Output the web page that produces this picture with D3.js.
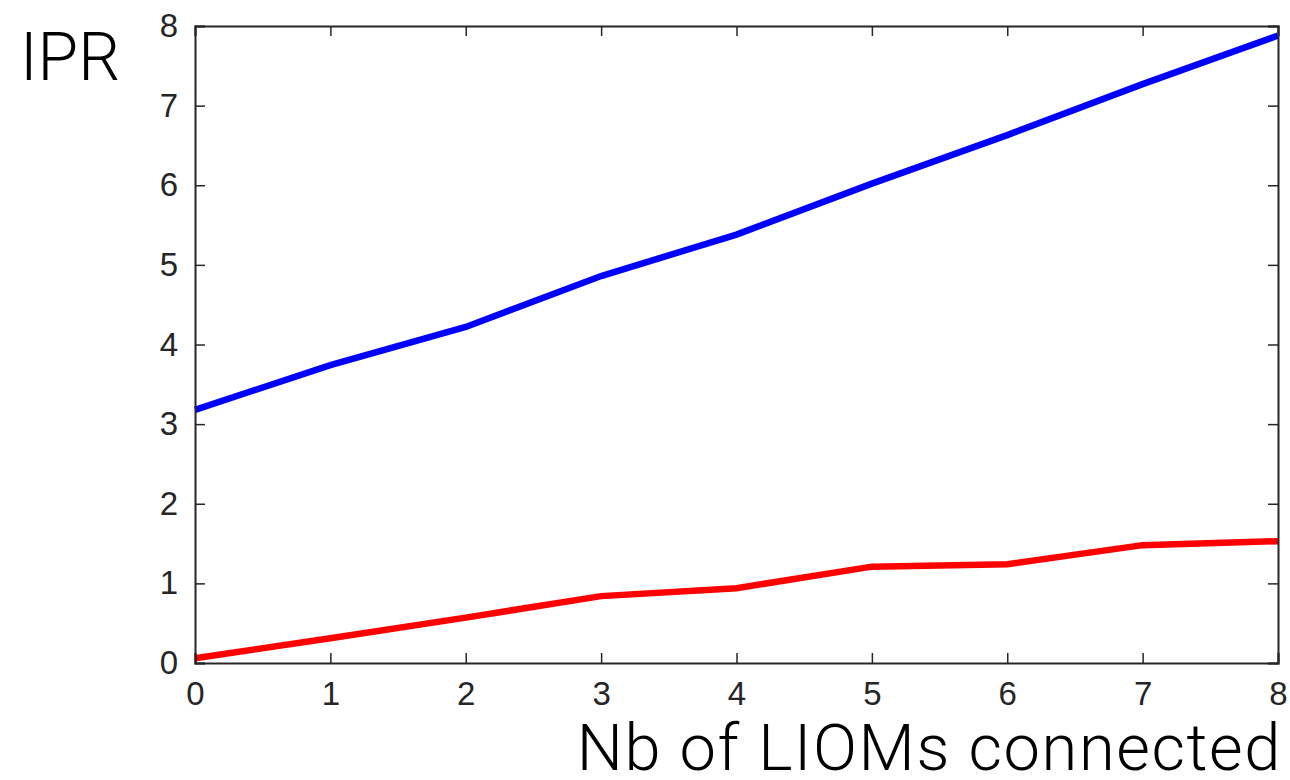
<!DOCTYPE html>
<html>
<head>
<meta charset="utf-8">
<script src="https://cdn.jsdelivr.net/npm/d3@7"></script>
<style>
  body { margin: 0; background: #fff; }
  .tick text { font-family: "Liberation Sans", Arial, sans-serif; font-size: 33px; fill: #262626; }
</style>
</head>
<body>
<div id="container"></div>
<script>
let w = 1290;
let h = 780;

// data
let nbConnected = [0, 1, 2, 3, 4, 5, 6, 7, 8];
let iprBlue = [3.18, 3.74, 4.22, 4.86, 5.38, 6.02, 6.63, 7.27, 7.88];
let iprRed = [0.06, 0.31, 0.57, 0.84, 0.94, 1.21, 1.24, 1.48, 1.53];
let xTicks = [0, 1, 2, 3, 4, 5, 6, 7, 8];
let yTicks = [0, 1, 2, 3, 4, 5, 6, 7, 8];

let viz = d3.select("#container")
  .append("svg")
    .attr("width", w)
    .attr("height", h)
;

let plotLeft = 195, plotRight = 1278, plotTop = 26, plotBottom = 663;

let xScale = d3.scaleLinear().domain([0, 8]).range([plotLeft, plotRight]);
let yScale = d3.scaleLinear().domain([0, 8]).range([plotBottom, plotTop]);

// lines
let line = d3.line()
  .x((d, i) => xScale(nbConnected[i]))
  .y(d => yScale(d));

viz.append("path").datum(iprRed)
  .attr("d", line)
  .attr("fill", "none")
  .attr("stroke", "#ff0000")
  .attr("stroke-width", 6.5);

viz.append("path").datum(iprBlue)
  .attr("d", line)
  .attr("fill", "none")
  .attr("stroke", "#0000ff")
  .attr("stroke-width", 6.5);

// axes, ticks pointing inward, box around
let xAxis = d3.axisBottom(xScale).tickValues(xTicks).tickSize(-10).tickPadding(19).tickFormat(d3.format("d"));
let xAxisGroup = viz.append("g").attr("class", "xaxis")
  .attr("transform", "translate(0," + plotBottom + ")")
  .call(xAxis);

let yAxis = d3.axisLeft(yScale).tickValues(yTicks).tickSize(-10).tickPadding(17).tickFormat(d3.format("d"));
let yAxisGroup = viz.append("g").attr("class", "yaxis")
  .attr("transform", "translate(" + plotLeft + ",0)")
  .call(yAxis);

let xTop = d3.axisTop(xScale).tickValues(xTicks).tickSize(-10).tickFormat("");
viz.append("g").attr("transform", "translate(0," + plotTop + ")").call(xTop);

let yRight = d3.axisRight(yScale).tickValues(yTicks).tickSize(-10).tickFormat("");
viz.append("g").attr("transform", "translate(" + plotRight + ",0)").call(yRight);

viz.selectAll(".domain").attr("stroke", "#262626").attr("stroke-width", 2);
viz.selectAll(".tick line").attr("stroke", "#262626").attr("stroke-width", 1.5);

// labels
viz.append("text")
  .attr("x", 20)
  .attr("y", 80)
  .style("font-family", "Roboto, 'Open Sans', sans-serif")
  .style("font-weight", 300)
  .style("font-size", "66px")
  .attr("fill", "#000")
  .text("IPR");

viz.append("text")
  .attr("x", 1282)
  .attr("y", 770)
  .attr("text-anchor", "end")
  .style("font-family", "Roboto, 'Open Sans', sans-serif")
  .style("font-weight", 300)
  .style("font-size", "65px")
  .style("letter-spacing", "1.6px")
  .attr("fill", "#000")
  .text("Nb of LIOMs connected");
</script>
</body>
</html>
